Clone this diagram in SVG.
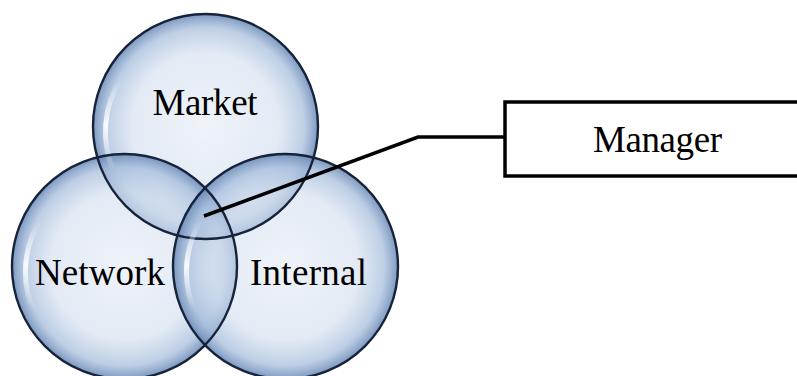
<svg xmlns="http://www.w3.org/2000/svg" width="797" height="376" viewBox="0 0 797 376">
<style>
.fill{fill:url(#g);stroke:none}
.ring{fill:none;stroke:#16233a;stroke-width:2.4}
.hl{fill:none;stroke:url(#h);stroke-width:5;stroke-linecap:round}
.lbl{font-family:"Liberation Serif","DejaVu Serif",serif;font-size:37px;fill:#000}
.conn{fill:none;stroke:#000;stroke-width:3.5;stroke-linejoin:miter}
.box{fill:#fff;stroke:#000;stroke-width:3.5}
</style>
<defs>
<radialGradient id="g" cx="0.5" cy="0.5" r="0.5">
<stop offset="0" stop-color="#e4ebf6" stop-opacity="0.6"/>
<stop offset="0.65" stop-color="#d2deee" stop-opacity="0.62"/>
<stop offset="0.88" stop-color="#a3bbdb" stop-opacity="0.72"/>
<stop offset="1" stop-color="#6586b4" stop-opacity="0.85"/>
</radialGradient>
<linearGradient id="h" x1="0" y1="0" x2="0" y2="1">
<stop offset="0" stop-color="#fff" stop-opacity="0"/>
<stop offset="0.5" stop-color="#fff" stop-opacity="0.9"/>
<stop offset="1" stop-color="#fff" stop-opacity="0"/>
</linearGradient>
</defs>
<rect width="797" height="376" fill="#fff"/>
<g id="fills">
<circle class="fill" cx="205.5" cy="126.5" r="112.5"/>
<circle class="fill" cx="124.5" cy="266.5" r="112.5"/>
<circle class="fill" cx="285.5" cy="266.5" r="112.5"/>
</g>
<g id="market">
<circle class="ring" cx="205.5" cy="126.5" r="112.5"/>
<path class="hl" d="M120,80 A100,100 0 0,0 113,170"/>
<text class="lbl" x="205" y="115" text-anchor="middle" textLength="105">Market</text>
</g>
<g id="network">
<circle class="ring" cx="124.5" cy="266.5" r="112.5"/>
<path class="hl" d="M40,220 A100,100 0 0,0 33,310"/>
<text class="lbl" x="100" y="285" text-anchor="middle" textLength="130">Network</text>
</g>
<g id="internal">
<circle class="ring" cx="285.5" cy="266.5" r="112.5"/>
<path class="hl" d="M201,220 A100,100 0 0,0 194,310"/>
<text class="lbl" x="308.5" y="285" text-anchor="middle" textLength="117">Internal</text>
</g>
<g id="manager">
<rect class="box" x="505" y="102" width="300" height="74"/>
<text class="lbl" x="657.5" y="152" text-anchor="middle" textLength="129">Manager</text>
</g>
<g id="connectors">
<polyline class="conn" points="204,216 418,137 505,137"/>
</g>
</svg>
